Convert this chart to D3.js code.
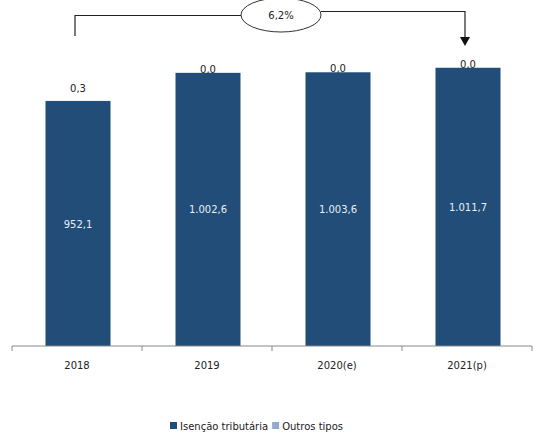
<!DOCTYPE html>
<html>
<head>
<meta charset="utf-8">
<script src="https://cdn.jsdelivr.net/npm/d3@7"></script>
<style>
  body { margin: 0; background: #fff; }
  text { font-family: "DejaVu Sans", Verdana, sans-serif; }
</style>
</head>
<body>
<script>
// chart values
const years = ['2018', '2019', '2020(e)', '2021(p)'];
const isencao = [952.1, 1002.6, 1003.6, 1011.7];
const outros = [0.3, 0.0, 0.0, 0.0];
const seriesNames = ['Isenção tributária', 'Outros tipos'];
const growthLabel = '6,2%';

const fmt = function(v) {
    // pt-BR style: 1.002,6
    return d3.format(',.1f')(v).replace(/,/g, '#').replace('.', ',').replace(/#/g, '.');
};

let width = 535, height = 432;
let svg = d3.select('body').append('svg').attr('width', width).attr('height', height);

let axisY = 346;
let x = d3.scaleBand().domain(years).range([12, 532]).paddingInner(0.5).paddingOuter(0.25);
let y = d3.scaleLinear().domain([513, 1100]).range([axisY, 18.5]);

let colors = ['#214d78', '#95a8c8'];

let rows = years.map(function(yr, i) { return {year: yr, isencao: isencao[i], outros: outros[i]}; });
let stack = d3.stack().keys(['isencao', 'outros'])(rows);

// bars
svg.append('g').selectAll('g')
    .data(stack)
    .enter().append('g')
    .attr('fill', function(d, i) { return colors[i]; })
    .selectAll('rect')
    .data(function(d) { return d; })
    .enter().append('rect')
    .attr('x', function(d) { return x(d.data.year) + 1; })
    .attr('width', x.bandwidth())
    .attr('y', function(d) { return y(Math.max(d[1], 513)); })
    .attr('height', function(d) { return Math.max(0, y(Math.max(d[0], 513)) - y(Math.max(d[1], 513))); });

// inside labels
svg.append('g').selectAll('text')
    .data(rows)
    .enter().append('text')
    .attr('x', function(d) { return x(d.year) + x.bandwidth() / 2 + 1; })
    .attr('y', function(d) { return (y(d.isencao) + axisY) / 2 + 4; })
    .attr('text-anchor', 'middle')
    .attr('font-size', 10)
    .attr('fill', '#e8eef6')
    .text(function(d) { return fmt(d.isencao); });

// outros labels above
svg.append('g').selectAll('text')
    .data(rows)
    .enter().append('text')
    .attr('x', function(d) { return x(d.year) + x.bandwidth() / 2 + 1; })
    .attr('y', function(d) { return y(d.isencao + d.outros) - (d.outros > 0 ? 9 : 0); })
    .attr('text-anchor', 'middle')
    .attr('font-size', 10)
    .attr('fill', '#222')
    .text(function(d) { return fmt(d.outros); });

// x axis
let xAxis = svg.append('g').attr('transform', 'translate(0,' + axisY + ')');
xAxis.append('line').attr('x1', 12).attr('x2', 532).attr('stroke', '#888');
let tickPos = years.map(function(d) { return x(d) - x.step() * 0.25; }).concat([532]);
xAxis.selectAll('line.tick')
    .data(tickPos)
    .enter().append('line')
    .attr('class', 'tick')
    .attr('x1', function(d) { return d; }).attr('x2', function(d) { return d; })
    .attr('y1', 0).attr('y2', 5)
    .attr('stroke', '#888');
xAxis.selectAll('text')
    .data(years)
    .enter().append('text')
    .attr('x', function(d) { return x(d) + x.bandwidth() / 2; })
    .attr('y', 23)
    .attr('text-anchor', 'middle')
    .attr('font-size', 10)
    .attr('fill', '#222')
    .text(function(d) { return d; });

// growth bracket
let x0 = x(years[0]) + x.bandwidth() / 2 - 2;
let x1 = x(years[3]) + x.bandwidth() / 2 - 2;
let ex = 281, ey = 15;
let g = svg.append('g').attr('stroke', '#222').attr('fill', 'none').attr('stroke-width', 1.2);
g.append('path').attr('d', 'M' + x0 + ',36 V15.5 H' + (ex - 40));
g.append('path').attr('d', 'M' + (ex + 40) + ',11.5 H' + x1 + ' V38');
svg.append('path')
    .attr('d', 'M' + (x1 - 5) + ',37 L' + (x1 + 5) + ',37 L' + x1 + ',46 Z')
    .attr('fill', '#111');
svg.append('ellipse')
    .attr('cx', ex).attr('cy', ey).attr('rx', 40).attr('ry', 17)
    .attr('fill', '#fff').attr('stroke', '#333').attr('stroke-width', 1);
svg.append('text')
    .attr('x', ex).attr('y', ey + 4)
    .attr('text-anchor', 'middle')
    .attr('font-size', 10)
    .attr('fill', '#222')
    .text(growthLabel);

// legend
let legend = svg.append('g').attr('transform', 'translate(170,427)');
let lx = 0;
seriesNames.forEach(function(name, i) {
    legend.append('rect').attr('x', lx).attr('y', -5).attr('width', 7).attr('height', 7).attr('fill', colors[i]);
    let t = legend.append('text').attr('x', lx + 10).attr('y', 3)
        .attr('font-size', 10).attr('fill', '#222').text(name);
    lx += 10 + t.node().getComputedTextLength() + 4;
});
</script>
</body>
</html>
